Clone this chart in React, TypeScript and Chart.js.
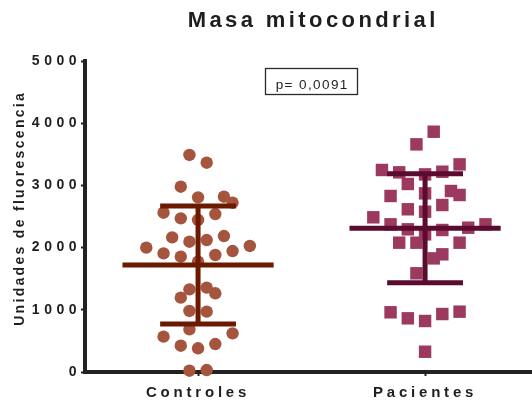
import React, { useEffect, useRef } from 'react';
import { Chart, registerables } from 'chart.js';

Chart.register(...registerables);

const categories = ['Controles', 'Pacientes'];

const controlValues = [
  3489, 3365, 2979, 2808, 2818, 2722, 2561, 2470, 2444, 2540,
  2165, 2095, 2122, 2186, 1999, 1907, 1854, 1774, 1881, 1945,
  2026, 1329, 1356, 1195, 1265, 981, 970, 687, 568, 621,
  423, 381, 450, 21, 32,
];
const controlJitter = [
  -1, 1, -2, 0, 3, 4, -4, -2, 0, 2,
  -3, -1, 1, 3, -6, -4, -2, 0, 2, 4,
  6, -1, 1, -2, 2, -1, 1, -1, -4, 4,
  -2, 0, 2, -1, 1,
];

const patientValues = [
  3863, 3660, 3248, 3210, 3177, 3220, 3338, 3023, 2872, 2910,
  2846, 2830, 2616, 2577, 2685, 2487, 2374, 2294, 2213, 2283,
  2320, 2374, 2079, 2079, 2079, 1827, 1892, 1587, 960, 863,
  820, 932, 970, 326,
];
const patientJitter = [
  1, -1, -5, -3, 0, 2, 4, -2, 0, 3,
  4, -4, -2, 0, 2, -6, -4, -2, 0, 2,
  5, 7, -3, -1, 4, 1, 2, -1, -4, -2,
  0, 2, 4, 0,
];

const groupMeans = [1720, 2310];
const groupSDs = [950, 876];
const yTicks = [0, 1000, 2000, 3000, 4000, 5000];

const chartTitle = 'Masa mitocondrial';
const yAxisTitle = 'Unidades de fluorescencia';
const pValueText = 'p= 0,0091';

const JITTER_STEP = 0.038;
const MEAN_HALF = 0.333;
const CAP_HALF = 0.167;
const FONT = '"Liberation Sans", Arial, Helvetica, sans-serif';

function errorBarData(center: number, mean: number, sd: number) {
  const hi = mean + sd;
  const lo = mean - sd;
  return [
    { x: center - MEAN_HALF, y: mean }, { x: center + MEAN_HALF, y: mean }, { x: center, y: null },
    { x: center - CAP_HALF, y: hi }, { x: center + CAP_HALF, y: hi }, { x: center, y: null },
    { x: center - CAP_HALF, y: lo }, { x: center + CAP_HALF, y: lo }, { x: center, y: null },
    { x: center, y: hi }, { x: center, y: lo },
  ];
}

function wrapLabels(scale: any, ls: string) {
  if (!scale || scale._lsWrapped) return;
  const orig = scale.drawLabels;
  scale.drawLabels = function (area: any) {
    const ctx = this.ctx;
    ctx.save();
    ctx.letterSpacing = ls;
    orig.call(this, area);
    ctx.restore();
  };
  scale._lsWrapped = true;
}

const textPlugin = {
  id: 'customTexts',
  afterLayout(chart: any) {
    wrapLabels(chart.scales.x, '3.8px');
    wrapLabels(chart.scales.y, '4.5px');
  },
  afterDraw(chart: any) {
    const ctx = chart.ctx;
    ctx.save();
    ctx.fillStyle = '#1e1e1e';
    ctx.textBaseline = 'alphabetic';
    ctx.textAlign = 'left';

    // Title
    ctx.font = `bold 22px ${FONT}`;
    ctx.letterSpacing = '3.4px';
    let w = ctx.measureText(chartTitle).width - 3.4;
    ctx.fillText(chartTitle, 311.5 - w / 2, 26.5);

    // p-value box
    ctx.strokeStyle = '#2a2a2a';
    ctx.lineWidth = 1.3;
    ctx.strokeRect(265.5, 68.5, 92, 26);
    ctx.font = `13.5px ${FONT}`;
    ctx.letterSpacing = '1.4px';
    w = ctx.measureText(pValueText).width - 1.4;
    ctx.fillText(pValueText, 311.5 - w / 2, 89.2);

    // Y axis title
    ctx.font = `bold 14px ${FONT}`;
    ctx.letterSpacing = '2.3px';
    w = ctx.measureText(yAxisTitle).width - 2.3;
    ctx.translate(24, 209.5);
    ctx.rotate(-Math.PI / 2);
    ctx.fillText(yAxisTitle, -w / 2, 0);
    ctx.restore();
  },
};

export default function App() {
  const ref = useRef<HTMLCanvasElement>(null);

  useEffect(() => {
    const canvas = ref.current;
    if (!canvas) return;
    const chart = new Chart(canvas, {
      type: 'scatter',
      data: {
        datasets: [
          {
            type: 'scatter',
            label: categories[0],
            data: controlValues.map((v, i) => ({ x: 1 + controlJitter[i] * JITTER_STEP, y: v })),
            backgroundColor: '#A5543E',
            borderWidth: 0,
            pointStyle: 'circle',
            pointRadius: 6.2,
            pointHoverRadius: 6.2,
            clip: false,
            order: 1,
          } as any,
          {
            type: 'scatter',
            label: categories[1],
            data: patientValues.map((v, i) => ({ x: 2 + patientJitter[i] * JITTER_STEP, y: v })),
            backgroundColor: '#9B3A5E',
            borderWidth: 0,
            pointStyle: 'rect',
            pointRadius: 8.8,
            pointHoverRadius: 8.8,
            clip: false,
            order: 1,
          } as any,
          {
            type: 'line',
            label: 'sd1',
            data: errorBarData(1, groupMeans[0], groupSDs[0]),
            borderColor: '#6B1A00',
            borderWidth: 5,
            borderCapStyle: 'butt',
            pointRadius: 0,
            spanGaps: false,
            tension: 0,
            fill: false,
            clip: false,
            order: 0,
          } as any,
          {
            type: 'line',
            label: 'sd2',
            data: errorBarData(2, groupMeans[1], groupSDs[1]),
            borderColor: '#5A0B2F',
            borderWidth: 5,
            borderCapStyle: 'butt',
            pointRadius: 0,
            spanGaps: false,
            tension: 0,
            fill: false,
            clip: false,
            order: 0,
          } as any,
        ],
      },
      options: {
        responsive: false,
        animation: false,
        layout: { autoPadding: false, padding: { top: 61, right: 0, bottom: 0, left: 0 } },
        plugins: {
          legend: { display: false },
          tooltip: { enabled: false },
          title: { display: false },
        },
        scales: {
          x: {
            type: 'linear',
            min: 0.502,
            max: 2.471,
            afterBuildTicks: (s: any) => {
              s.ticks = categories.map((_, i) => ({ value: i + 1 }));
            },
            afterFit: (s: any) => {
              s.height = 32;
              s.paddingLeft = 0;
              s.paddingRight = 0;
            },
            ticks: {
              callback: (v: any) => categories[Math.round(Number(v)) - 1] ?? '',
              font: { family: FONT, size: 15, weight: 'bold' },
              color: '#1e1e1e',
              padding: 8,
              maxRotation: 0,
              autoSkip: false,
            },
            grid: {
              display: true,
              drawOnChartArea: false,
              drawTicks: true,
              tickLength: 4,
              tickWidth: 2,
              tickColor: '#222',
            },
            border: { display: true, width: 4, color: '#222' },
          },
          y: {
            type: 'linear',
            min: 0,
            max: 5000,
            afterBuildTicks: (s: any) => {
              s.ticks = yTicks.map((v) => ({ value: v }));
            },
            afterFit: (s: any) => {
              s.width = 85;
              s.paddingTop = 0;
              s.paddingBottom = 0;
            },
            ticks: {
              callback: (v: any) => String(v),
              font: { family: FONT, size: 14, weight: 'bold' },
              color: '#1e1e1e',
              padding: 0,
            },
            grid: {
              display: true,
              drawOnChartArea: false,
              drawTicks: true,
              tickLength: 4,
              tickWidth: 2,
              tickColor: '#222',
            },
            border: { display: true, width: 4, color: '#222' },
          },
        },
      } as any,
      plugins: [textPlugin],
    });
    return () => chart.destroy();
  }, []);

  return (
    <div style={{ position: 'absolute', left: 0, top: 0, width: 532, height: 404, background: '#fff' }}>
      <canvas ref={ref} width={532} height={404} style={{ width: 532, height: 404, display: 'block' }} />
    </div>
  );
}
